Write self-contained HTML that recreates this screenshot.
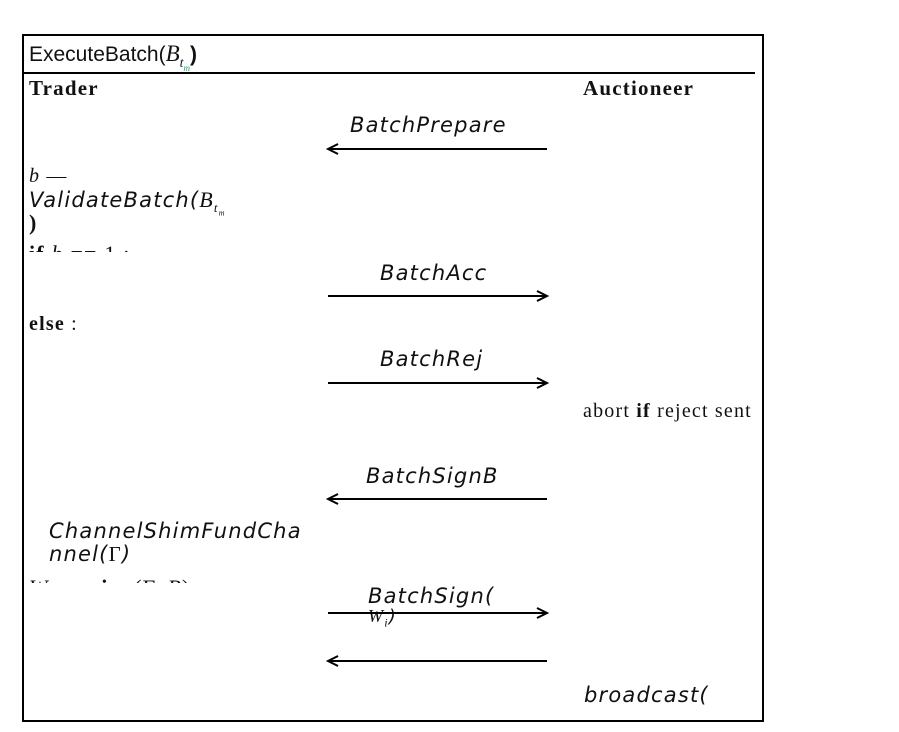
<!DOCTYPE html>
<html><head><meta charset="utf-8"><style>
html,body{margin:0;padding:0;background:#fff;width:899px;height:732px;overflow:hidden;position:relative}
.a{position:absolute;white-space:nowrap;color:#111}
.h{font-family:"DejaVu Sans",sans-serif;font-style:oblique;font-size:21px;letter-spacing:1.2px}
.s{font-family:"Liberation Serif",serif;font-size:20px;letter-spacing:1.2px}
.clip{position:absolute;overflow:hidden}
</style></head><body>
<div style="position:absolute;left:22px;top:34px;width:738px;height:684px;border:2px solid #000"></div>
<div style="position:absolute;left:24px;top:72px;width:731px;height:2px;background:#000"></div>
<div class="a" style="left:29px;top:41px;font-family:'Liberation Sans',sans-serif;font-size:21px">ExecuteBatch(<i style="font-family:'Liberation Serif',serif;font-size:23px">B<sub style="font-size:14px;color:#124">t<sub style="font-size:9px;color:#2a6">m</sub></sub></i><b>)</b></div>
<div class="a s" style="left:29px;top:76px;font-weight:bold;font-size:21px">Trader</div>
<div class="a s" style="left:583px;top:76px;font-weight:bold;font-size:21px">Auctioneer</div>

<div class="a h" style="left:350px;top:113px">BatchPrepare</div>
<div class="a s" style="left:29px;top:165px"><i>b</i> —</div>
<div class="a h" style="left:29px;top:187px">ValidateBatch(<i style="font-family:'Liberation Serif',serif;font-style:italic;font-size:22px">B<sub style="font-size:13px">t<sub style="font-size:8px">m</sub></sub></i></div>
<div class="a s" style="left:29px;top:210px;font-weight:bold;font-size:22px">)</div>
<div class="clip" style="left:29px;top:243px;width:200px;height:9px"><div class="a s" style="left:0;top:-2px;font-size:22px"><b>if</b> <i>b</i> == 1 :</div></div>
<div class="a h" style="left:380px;top:261px">BatchAcc</div>
<div class="a s" style="left:29px;top:313px"><b>else</b> :</div>
<div class="a h" style="left:380px;top:347px">BatchRej</div>
<div class="a s" style="left:583px;top:400px">abort <b>if</b> reject sent</div>
<div class="a h" style="left:366px;top:464px">BatchSignB</div>
<div class="a h" style="left:49px;top:519px">ChannelShimFundCha</div>
<div class="a h" style="left:49px;top:542px">nnel(<span style="font-family:'Liberation Serif',serif;font-style:normal">Γ</span>)</div>
<div class="clip" style="left:29px;top:576px;width:200px;height:7px"><div class="a s" style="left:0;top:-1px;font-size:22px"><i>W<sub>i</sub></i> ← <b>sign</b>(Γ, <i>B</i>)</div></div>
<div class="a h" style="left:368px;top:584px">BatchSign(</div>
<div class="a h" style="left:368px;top:606px;font-size:18px"><span style="font-family:'Liberation Serif',serif;font-style:italic">W<sub style="font-size:12px">i</sub></span>)</div>
<div class="a h" style="left:584px;top:683px">broadcast(</div>

<svg width="899" height="732" style="position:absolute;left:0;top:0">
<g stroke="#000" stroke-width="2" fill="none">
<line x1="328" y1="149" x2="547" y2="149"/><path d="M338 144 L328 149 L338 154"/>
<line x1="328" y1="296" x2="547" y2="296"/><path d="M537 291 L547 296 L537 301"/>
<line x1="328" y1="383" x2="547" y2="383"/><path d="M537 378 L547 383 L537 388"/>
<line x1="328" y1="499" x2="547" y2="499"/><path d="M338 494 L328 499 L338 504"/>
<line x1="328" y1="613" x2="547" y2="613"/><path d="M537 608 L547 613 L537 618"/>
<line x1="328" y1="661" x2="547" y2="661"/><path d="M338 656 L328 661 L338 666"/>
</g></svg>
</body></html>
